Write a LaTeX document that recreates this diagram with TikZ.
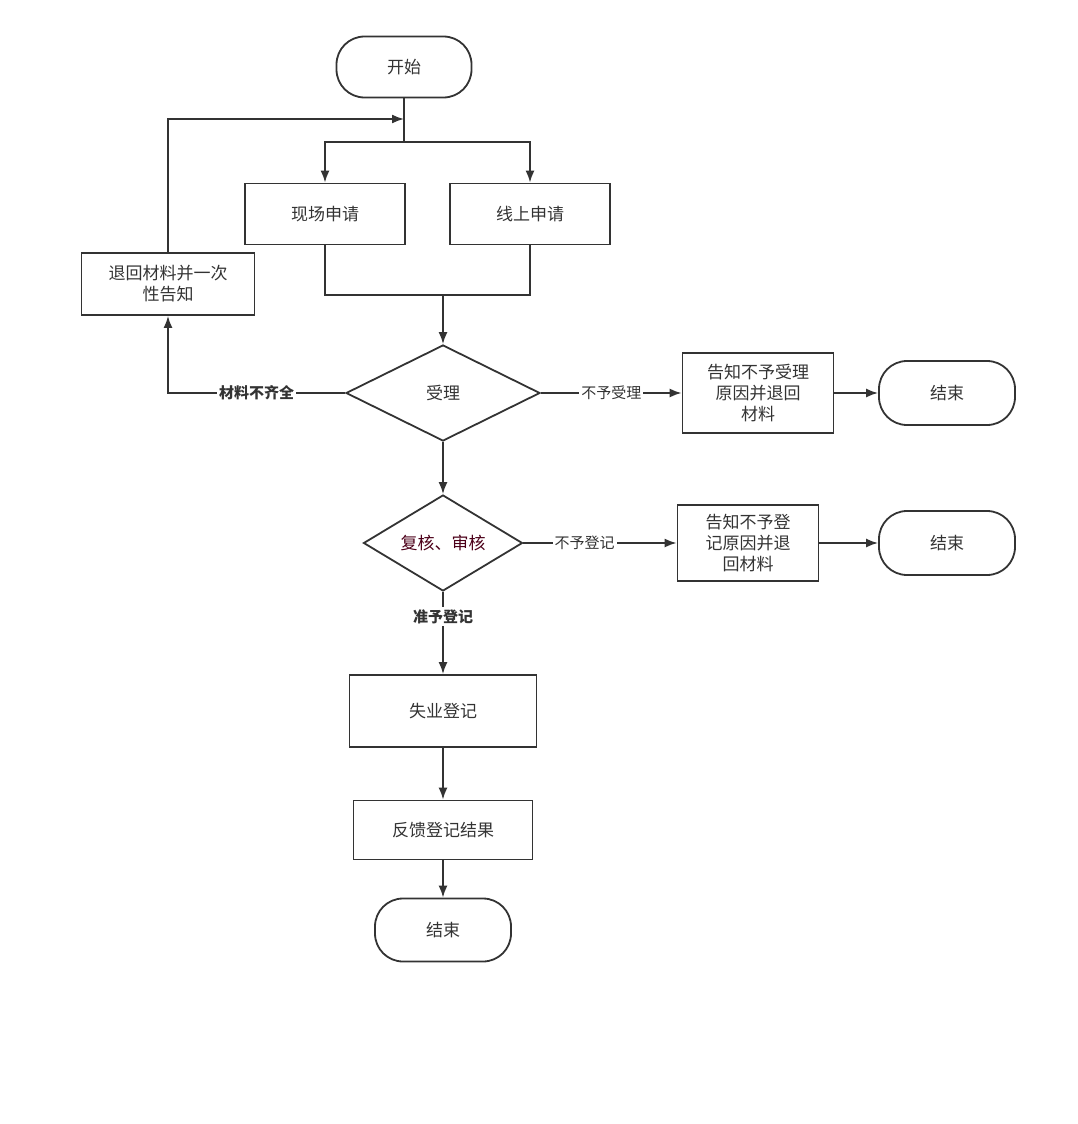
\documentclass[tikz,border=0pt]{standalone}
\usepackage{fontspec}
\setmainfont{Noto Sans CJK SC}
\usetikzlibrary{shapes.geometric,arrows.meta}
\begin{document}
\begin{tikzpicture}[x=1pt,y=-1pt,
  box/.style={draw=black!80,line width=1.8pt,align=center,font=\fontsize{17}{21}\selectfont,inner sep=0pt,text=black!80},
  term/.style={box,rounded corners=28pt},
  dia/.style={draw=black!80,line width=1.8pt,diamond,aspect=2,inner sep=0pt,font=\fontsize{17}{21}\selectfont,text=black!80},
  ln/.style={draw=black!80,line width=1.8pt},
  ar/.style={ln,-{Latex[length=12pt,width=9pt]}},
  lab/.style={fill=white,font=\fontsize{15}{18}\selectfont,inner sep=2pt,text=black!80},
  blab/.style={lab,font=\fontsize{15}{18}\selectfont\bfseries}]
\useasboundingbox (0,0) rectangle (1078,1124);
\node[term,minimum width=135pt,minimum height=61pt] (start) at (404,67) {开始};
\node[box,minimum width=160pt,minimum height=61pt] (xc) at (325,214) {现场申请};
\node[box,minimum width=160pt,minimum height=61pt] (xs) at (530,214) {线上申请};
\node[box,minimum width=173pt,minimum height=62pt] (th) at (168,284) {退回材料并一次\\性告知};
\node[dia,minimum width=194pt,minimum height=96pt] (sl) at (443,393) {受理};
\node[box,minimum width=151pt,minimum height=80pt] (bz1) at (758,393) {告知不予受理\\原因并退回\\材料};
\node[term,minimum width=136pt,minimum height=64pt] (e1) at (947,393) {结束};
\node[dia,minimum width=159pt,minimum height=96pt,text=black!60!purple] (fh) at (443,543) {复核、审核};
\node[box,minimum width=141pt,minimum height=76pt] (bz2) at (748,543) {告知不予登\\记原因并退\\回材料};
\node[term,minimum width=136pt,minimum height=64pt] (e2) at (947,543) {结束};
\node[box,minimum width=187pt,minimum height=72pt] (sy) at (443,711) {失业登记};
\node[box,minimum width=179pt,minimum height=59pt] (fk) at (443,830) {反馈登记结果};
\node[term,minimum width=136pt,minimum height=63pt] (e3) at (443,930) {结束};
\coordinate (sp) at (404,142);
\coordinate (fb) at (404,119);
\coordinate (jn) at (443,295);
\draw[ln] (start.south) -- (sp);
\draw[ar] (sp) -| (xc.north);
\draw[ar] (sp) -| (xs.north);
\draw[ar] (th.north) |- (fb);
\draw[ln] (xc.south) |- (jn);
\draw[ln] (xs.south) |- (jn);
\draw[ar] (jn) -- (sl.north);
\draw[ar] (sl.west) -| node[blab,pos=0.25]{材料不齐全} (th.south);
\draw[ar] (sl.east) -- node[lab,pos=0.5]{不予受理} (bz1.west);
\draw[ar] (bz1.east) -- (e1.west);
\draw[ar] (sl.south) -- (fh.north);
\draw[ar] (fh.east) -- node[lab,pos=0.4]{不予登记} (bz2.west);
\draw[ar] (bz2.east) -- (e2.west);
\draw[ar] (fh.south) -- node[blab,pos=0.3]{准予登记} (sy.north);
\draw[ar] (sy.south) -- (fk.north);
\draw[ar] (fk.south) -- (e3.north);
\end{tikzpicture}
\end{document}
